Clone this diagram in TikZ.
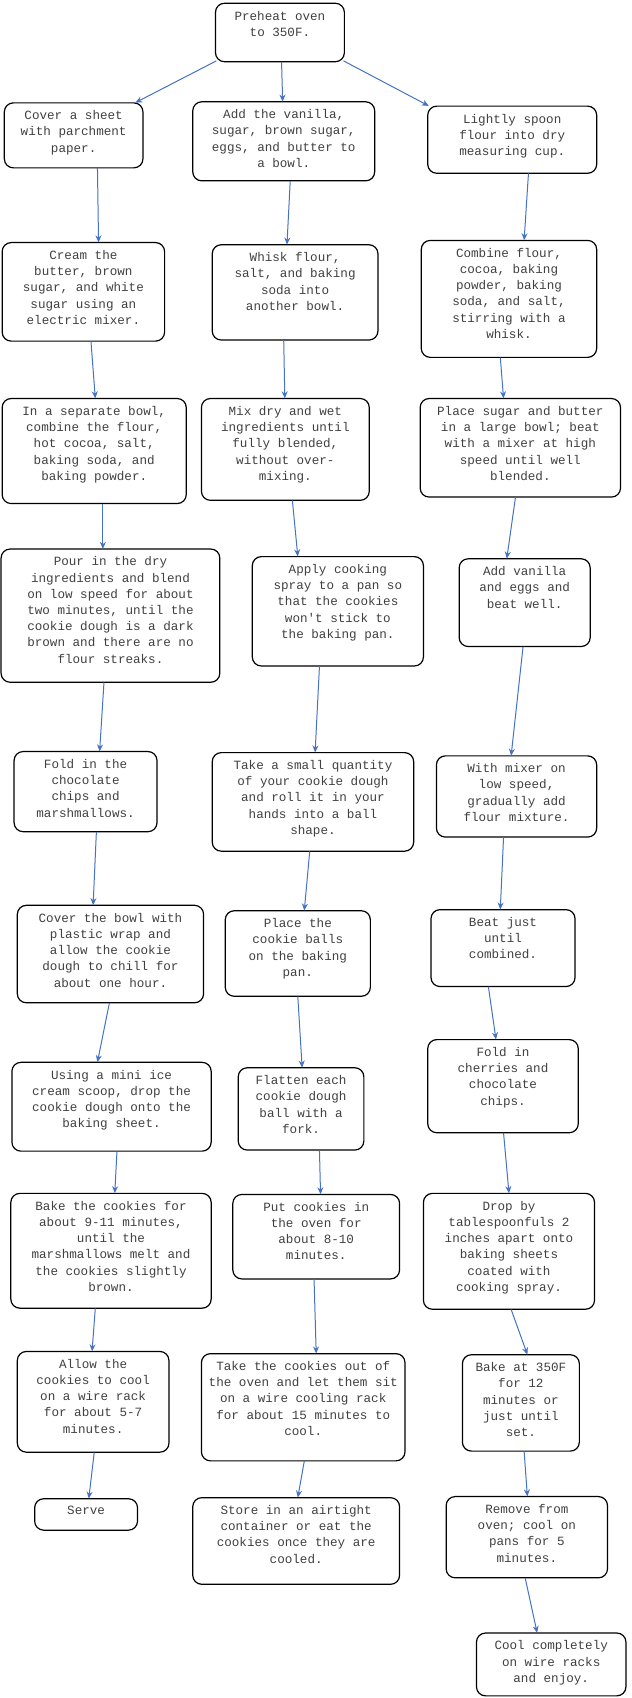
\documentclass[tikz,border=0pt]{standalone}
\usepackage{fontspec}
\setmonofont{Liberation Mono}
\usetikzlibrary{arrows.meta}
\definecolor{arrblue}{RGB}{68,114,196}
\tikzset{
  boxstyle/.style={draw=black,line width=1.2pt,rounded corners=9pt},
  txt/.style={anchor=north,align=center,inner sep=0pt,font=\ttfamily\fontsize{12.6}{16.2}\selectfont,text=black!75},
  arr/.style={draw=arrblue,line width=1pt,-{Stealth[length=7pt,width=6pt]}}
}
\newcommand{\bx}[6]{%
  \path[boxstyle] (#2,#3) rectangle (#4,#5);
  \node[minimum width={(#4-#2)*1.083pt},minimum height={(#5-#3)*1.083pt},inner sep=0pt] (#1) at ({(#2+#4)/2},{(#3+#5)/2}) {};
  \node[txt] (#1t) at ({(#2+#4)/2},{#3+7}) {#6};}
\newcommand{\ar}[4]{\draw[arr] (#1.south -| #3,0) -- (#2.north -| #4,0);}
\begin{document}
\begin{tikzpicture}[x=1.083pt,y=-1.083pt]
\useasboundingbox (0,0) rectangle (583.6,1568);
\bx{P0}{199}{3}{318}{57}{Preheat oven\\to 350F.}
\bx{A1}{4}{95}{132}{155}{Cover a sheet\\with parchment\\paper.}
\bx{A2}{2}{224}{152}{315}{Cream the\\butter, brown\\sugar, and white\\sugar using an\\electric mixer.}
\bx{A3}{2}{368}{172}{465}{In a separate bowl,\\combine the flour,\\hot cocoa, salt,\\baking soda, and\\baking powder.}
\bx{A4}{1}{507}{203}{630}{Pour in the dry\\ingredients and blend\\on low speed for about\\two minutes, until the\\cookie dough is a dark\\brown and there are no\\flour streaks.}
\bx{A5}{13}{694}{145}{768}{Fold in the\\chocolate\\chips and\\marshmallows.}
\bx{A6}{16}{836}{188}{926}{Cover the bowl with\\plastic wrap and\\allow the cookie\\dough to chill for\\about one hour.}
\bx{A7}{11}{981}{195}{1063}{Using a mini ice\\cream scoop, drop the\\cookie dough onto the\\baking sheet.}
\bx{A8}{10}{1102}{195}{1208}{Bake the cookies for\\about 9-11 minutes,\\until the\\marshmallows melt and\\the cookies slightly\\brown.}
\bx{A9}{16}{1248}{156}{1341}{Allow the\\cookies to cool\\on a wire rack\\for about 5-7\\minutes.}
\bx{A10}{32}{1384}{127}{1413}{Serve}
\bx{B1}{178}{94}{346}{167}{Add the vanilla,\\sugar, brown sugar,\\eggs, and butter to\\a bowl.}
\bx{B2}{196}{226}{349}{314}{Whisk flour,\\salt, and baking\\soda into\\another bowl.}
\bx{B3}{186}{368}{341}{462}{Mix dry and wet\\ingredients until\\fully blended,\\without over-\\mixing.}
\bx{B4}{233}{514}{391}{615}{Apply cooking\\spray to a pan so\\that the cookies\\won't stick to\\the baking pan.}
\bx{B5}{196}{695}{382}{786}{Take a small quantity\\of your cookie dough\\and roll it in your\\hands into a ball\\shape.}
\bx{B6}{208}{841}{342}{920}{Place the\\cookie balls\\on the baking\\pan.}
\bx{B7}{220}{986}{336}{1062}{Flatten each\\cookie dough\\ball with a\\fork.}
\bx{B8}{215}{1103}{369}{1181}{Put cookies in\\the oven for\\about 8-10\\minutes.}
\bx{B9}{186}{1250}{374}{1349}{Take the cookies out of\\the oven and let them sit\\on a wire cooling rack\\for about 15 minutes to\\cool.}
\bx{B10}{178}{1383}{369}{1463}{Store in an airtight\\container or eat the\\cookies once they are\\cooled.}
\bx{C1}{395}{98}{551}{160}{Lightly spoon\\flour into dry\\measuring cup.}
\bx{C2}{389}{222}{551}{330}{Combine flour,\\cocoa, baking\\powder, baking\\soda, and salt,\\stirring with a\\whisk.}
\bx{C3}{388}{368}{573}{459}{Place sugar and butter\\in a large bowl; beat\\with a mixer at high\\speed until well\\blended.}
\bx{C4}{424}{516}{545}{597}{Add vanilla\\and eggs and\\beat well.}
\bx{C5}{403}{698}{551}{773}{With mixer on\\low speed,\\gradually add\\flour mixture.}
\bx{C6}{398}{840}{531}{911}{Beat just\\until\\combined.}
\bx{C7}{395}{960}{534}{1046}{Fold in\\cherries and\\chocolate\\chips.}
\bx{C8}{391}{1102}{549}{1209}{Drop by\\tablespoonfuls 2\\inches apart onto\\baking sheets\\coated with\\cooking spray.}
\bx{C9}{427}{1251}{535}{1340}{Bake at 350F\\for 12\\minutes or\\just until\\set.}
\bx{C10}{412}{1382}{561}{1457}{Remove from\\oven; cool on\\pans for 5\\minutes.}
\bx{C11}{440}{1508}{578}{1566}{Cool completely\\on wire racks\\and enjoy.}
\draw[arr] (P0.south west) ++(1,-1) -- (A1.north -| 125,0);
\ar{P0}{B1}{260}{261}
\draw[arr] (P0.south east) ++(-1,-1) -- (C1.north -| 396,0);
\ar{A1}{A2}{90}{91}\ar{A2}{A3}{84}{88}\ar{A3}{A4}{95}{95}\ar{A4}{A5}{96}{92}
\ar{A5}{A6}{89}{86}\ar{A6}{A7}{101}{90}\ar{A7}{A8}{108}{106}\ar{A8}{A9}{88}{85}\ar{A9}{A10}{87}{82}
\ar{B1}{B2}{268}{265}\ar{B2}{B3}{262}{263}\ar{B3}{B4}{270}{275}\ar{B4}{B5}{295}{291}
\ar{B5}{B6}{286}{281}\ar{B6}{B7}{275}{279}\ar{B7}{B8}{295}{296}\ar{B8}{B9}{290}{292}\ar{B9}{B10}{281}{275}
\ar{C1}{C2}{488}{484}\ar{C2}{C3}{462}{465}\ar{C3}{C4}{476}{468}\ar{C4}{C5}{483}{472}
\ar{C5}{C6}{465}{462}\ar{C6}{C7}{451}{458}\ar{C7}{C8}{465}{470}\ar{C8}{C9}{472}{487}
\ar{C9}{C10}{484}{487}\ar{C10}{C11}{485}{496}
\end{tikzpicture}
\end{document}
